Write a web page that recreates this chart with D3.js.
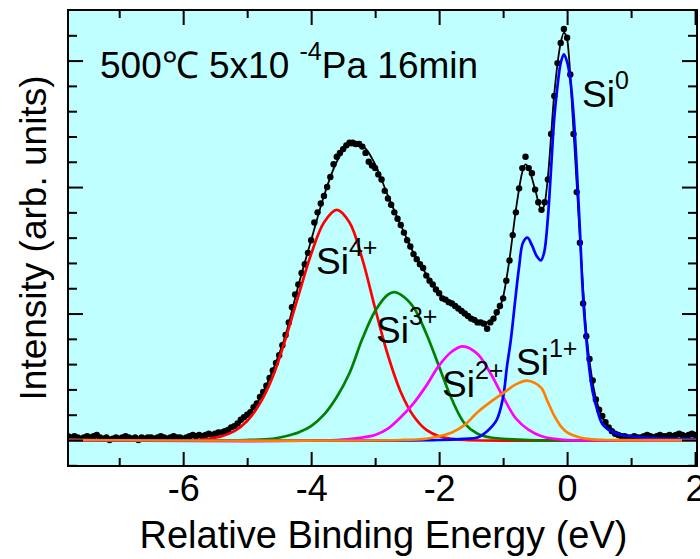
<!DOCTYPE html>
<html>
<head>
<meta charset="utf-8">
<script src="https://cdn.jsdelivr.net/npm/d3@7"></script>
<style>
  html, body { margin: 0; padding: 0; background: #fff; }
  svg { display: block; font-family: "Liberation Sans", Arial, sans-serif; }
</style>
</head>
<body>
<svg id="chart" width="700" height="559"></svg>
<script>
// measured spectrum: first energy and step of the scan (eV), then intensity per point
const scanStart = -7.8;
const scanStep = 0.05;
const measured = [
  0.03, 0.02, 0.03, 0.02, 0.01, 0.02, 0.03, 0.02, 0.03, 0.04,
  0.02, 0.01, 0.02, 0.00, 0.01, 0.02, 0.01, 0.02, 0.03, 0.02,
  0.01, 0.02, 0.00, 0.02, 0.01, 0.02, 0.02, 0.01, 0.02, 0.03,
  0.02, 0.01, 0.02, 0.03, 0.02, 0.02, 0.01, 0.02, 0.03, 0.04,
  0.03, 0.04, 0.03, 0.04, 0.05, 0.04, 0.05, 0.06, 0.06, 0.07,
  0.08, 0.10, 0.11, 0.13, 0.16, 0.18, 0.20, 0.22, 0.26, 0.29,
  0.34, 0.38, 0.43, 0.49, 0.55, 0.61, 0.67, 0.75, 0.83, 0.93,
  1.05, 1.15, 1.23, 1.32, 1.39, 1.48, 1.58, 1.72, 1.80, 1.87,
  1.93, 2.00, 2.08, 2.18, 2.24, 2.27, 2.30, 2.33, 2.35, 2.35,
  2.34, 2.34, 2.32, 2.27, 2.20, 2.17, 2.15, 2.10, 2.06, 1.97,
  1.91, 1.86, 1.80, 1.75, 1.70, 1.64, 1.58, 1.53, 1.47, 1.43,
  1.39, 1.36, 1.30, 1.26, 1.23, 1.19, 1.16, 1.12, 1.11, 1.09,
  1.08, 1.06, 1.04, 1.02, 1.00, 0.98, 0.96, 0.95, 0.93, 0.93,
  0.92, 0.88, 0.93, 0.96, 1.01, 1.06, 1.12, 1.26, 1.42, 1.62,
  1.80, 1.99, 2.15, 2.24, 2.15, 2.11, 1.98, 1.88, 1.82, 1.88,
  2.06, 2.42, 2.72, 2.98, 3.14, 3.25, 3.18, 2.89, 2.42, 1.96,
  1.56, 1.08, 0.82, 0.64, 0.47, 0.32, 0.24, 0.19, 0.14, 0.10,
  0.07, 0.05, 0.04, 0.03,
  0.03, 0.02, 0.02, 0.03, 0.02, 0.02, 0.03, 0.04, 0.03, 0.02,
  0.03, 0.04, 0.03, 0.03, 0.04, 0.03, 0.04, 0.05, 0.04, 0.03,
  0.04, 0.05, 0.04
];

// envelope of the fit [energy, intensity]
const fitCurve = [
  [-7.8, 0.02], [-6.0, 0.02], [-5.6, 0.03], [-5.4, 0.05], [-5.2, 0.10], [-5.0, 0.19],
  [-4.8, 0.33], [-4.6, 0.55], [-4.4, 0.83], [-4.2, 1.22], [-4.0, 1.58], [-3.8, 1.93],
  [-3.6, 2.20], [-3.4, 2.33], [-3.2, 2.32], [-3.0, 2.18], [-2.8, 1.93], [-2.6, 1.70],
  [-2.4, 1.48], [-2.2, 1.31], [-2.0, 1.16], [-1.8, 1.07], [-1.6, 1.00], [-1.4, 0.94],
  [-1.3, 0.93], [-1.2, 0.93], [-1.1, 1.00], [-1.0, 1.13], [-0.9, 1.43], [-0.8, 1.82],
  [-0.7, 2.12], [-0.65, 2.18], [-0.6, 2.15], [-0.5, 1.98], [-0.4, 1.82], [-0.35, 1.87],
  [-0.3, 2.08], [-0.2, 2.74], [-0.1, 3.14], [-0.05, 3.22], [0.0, 3.17], [0.1, 2.45],
  [0.2, 1.60], [0.3, 0.85], [0.4, 0.45], [0.5, 0.24], [0.6, 0.13], [0.8, 0.05],
  [1.0, 0.03], [1.4, 0.03], [2.03, 0.03]
];

// fitted components [energy, intensity]
const si4Curve = [
  [-7.8, 0], [-5.8, 0], [-5.6, 0.01], [-5.4, 0.03], [-5.2, 0.07], [-5.0, 0.15], [-4.8, 0.29],
  [-4.6, 0.50], [-4.4, 0.80], [-4.2, 1.14], [-4.0, 1.47], [-3.8, 1.72], [-3.6, 1.82],
  [-3.4, 1.72], [-3.2, 1.43], [-3.0, 1.04], [-2.8, 0.67], [-2.6, 0.38], [-2.4, 0.19],
  [-2.2, 0.08], [-2.0, 0.03], [-1.8, 0.01], [-1.6, 0], [2.03, 0]
];
const si3Curve = [
  [-7.8, 0], [-5.0, 0], [-4.6, 0.01], [-4.4, 0.03], [-4.2, 0.06], [-4.0, 0.11], [-3.8, 0.20],
  [-3.6, 0.34], [-3.4, 0.53], [-3.2, 0.80], [-3.0, 1.02], [-2.8, 1.15], [-2.7, 1.17],
  [-2.6, 1.15], [-2.4, 1.05], [-2.2, 0.84], [-2.0, 0.58], [-1.8, 0.32], [-1.6, 0.13],
  [-1.4, 0.05], [-1.2, 0.02], [-1.0, 0.01], [-0.6, 0], [2.03, 0]
];
const si2Curve = [
  [-7.8, 0], [-3.6, 0], [-3.2, 0.02], [-3.0, 0.04], [-2.8, 0.09], [-2.6, 0.18], [-2.4, 0.29],
  [-2.2, 0.43], [-2.0, 0.59], [-1.8, 0.70], [-1.63, 0.74], [-1.4, 0.68], [-1.2, 0.53],
  [-1.0, 0.34], [-0.8, 0.17], [-0.6, 0.08], [-0.4, 0.03], [-0.2, 0.01], [0.0, 0], [2.03, 0]
];
const si0Curve = [
  [-7.8, 0], [-2.0, 0], [-1.6, 0.01], [-1.4, 0.02], [-1.25, 0.07], [-1.1, 0.16], [-1.0, 0.34],
  [-0.94, 0.58], [-0.88, 0.79], [-0.81, 1.11], [-0.75, 1.37], [-0.69, 1.56], [-0.62, 1.60],
  [-0.55, 1.54], [-0.47, 1.45], [-0.41, 1.42], [-0.36, 1.48], [-0.3, 1.76], [-0.25, 2.15],
  [-0.2, 2.55], [-0.15, 2.80], [-0.1, 2.98], [-0.05, 3.05], [0.0, 2.99], [0.05, 2.85],
  [0.1, 2.58], [0.15, 2.16], [0.2, 1.66], [0.25, 1.13], [0.3, 0.80], [0.35, 0.55],
  [0.4, 0.38], [0.47, 0.24], [0.56, 0.12], [0.78, 0.05], [1.2, 0.02], [2.03, 0.01]
];
const si1Curve = [
  [-7.8, 0], [-2.6, 0], [-2.2, 0.01], [-2.0, 0.03], [-1.8, 0.06], [-1.6, 0.12], [-1.4, 0.22],
  [-1.2, 0.30], [-1.0, 0.37], [-0.8, 0.44], [-0.63, 0.47], [-0.5, 0.45], [-0.4, 0.41],
  [-0.3, 0.30], [-0.2, 0.19], [-0.1, 0.11], [0.0, 0.06], [0.2, 0.02], [0.4, 0.005],
  [0.6, 0], [2.03, 0]
];

const xMajorTicks = [-6, -4, -2, 0, 2];
const xMinorTicks = [-7, -5, -3, -1, 1];
const yMajorTicks = [0, 1, 2, 3];
const yMinorTicks = [-0.2, 0.2, 0.4, 0.6, 0.8, 1.2, 1.4, 1.6, 1.8, 2.2, 2.4, 2.6, 2.8, 3.2];

const svg = d3.select("#chart");
const plotLeft = 68, plotRight = 697, plotTop = 10, plotBottom = 466;

const x = d3.scaleLinear().domain([-7.8, 2.03]).range([plotLeft, plotRight]);
const y = d3.scaleLinear().domain([-0.2055, 3.40]).range([plotBottom, plotTop]);

// plot background
svg.append("rect")
  .attr("x", plotLeft).attr("y", plotTop)
  .attr("width", plotRight - plotLeft).attr("height", plotBottom - plotTop)
  .attr("fill", "#bfffff");

svg.append("clipPath").attr("id", "clip")
  .append("rect").attr("x", plotLeft).attr("y", plotTop)
  .attr("width", plotRight - plotLeft).attr("height", plotBottom - plotTop);
const inner = svg.append("g").attr("clip-path", "url(#clip)");

// data dots
const points = measured.map((v, i) => [scanStart + i * scanStep, v]);
inner.selectAll("circle.pt")
  .data(points)
  .join("circle")
  .attr("class", "pt")
  .attr("cx", d => x(d[0]))
  .attr("cy", d => y(d[1]))
  .attr("r", 3.2)
  .attr("fill", "#000");

const fitLine = d3.line()
  .x(d => x(d[0]))
  .y(d => y(d[1]))
  .curve(d3.curveMonotoneX);
const compLine = d3.line()
  .x(d => x(d[0]))
  .y(d => y(d[1]))
  .curve(d3.curveCatmullRom.alpha(0.5));

inner.append("path").datum(fitCurve)
  .attr("d", fitLine).attr("fill", "none")
  .attr("stroke", "#000").attr("stroke-width", 1.8);

const components = [
  { data: si4Curve, color: "#ff0000" },
  { data: si3Curve, color: "#008000" },
  { data: si2Curve, color: "#ff00ff" },
  { data: si0Curve, color: "#0000ff" },
  { data: si1Curve, color: "#ff8000" }
];
components.forEach(c => {
  inner.append("path").datum(c.data)
    .attr("d", compLine).attr("fill", "none")
    .attr("stroke", c.color).attr("stroke-width", 2.7);
});

// axes with inward ticks
const fmt = d => String(d).replace("\u2212", "-");
const axisStyle = g => {
  g.select(".domain").remove();
  g.selectAll(".tick line").attr("stroke", "#000").attr("stroke-width", 2);
};

svg.append("g").attr("transform", `translate(0,${plotBottom})`)
  .call(d3.axisBottom(x).tickValues(xMajorTicks).tickSize(-14).tickPadding(9).tickFormat(fmt))
  .call(axisStyle)
  .call(g => g.selectAll("text").attr("font-size", 36).attr("fill", "#000")
    .attr("font-family", "'Liberation Sans', Arial, sans-serif"));
svg.append("g").attr("transform", `translate(0,${plotBottom})`)
  .call(d3.axisBottom(x).tickValues(xMinorTicks).tickSize(-8).tickFormat(""))
  .call(axisStyle);
svg.append("g").attr("transform", `translate(0,${plotTop})`)
  .call(d3.axisTop(x).tickValues(xMajorTicks).tickSize(-15).tickFormat(""))
  .call(axisStyle);
svg.append("g").attr("transform", `translate(0,${plotTop})`)
  .call(d3.axisTop(x).tickValues(xMinorTicks).tickSize(-8).tickFormat(""))
  .call(axisStyle);

svg.append("g").attr("transform", `translate(${plotLeft},0)`)
  .call(d3.axisLeft(y).tickValues(yMajorTicks).tickSize(-15).tickFormat(""))
  .call(axisStyle);
svg.append("g").attr("transform", `translate(${plotLeft},0)`)
  .call(d3.axisLeft(y).tickValues(yMinorTicks).tickSize(-9).tickFormat(""))
  .call(axisStyle);
svg.append("g").attr("transform", `translate(${plotRight},0)`)
  .call(d3.axisRight(y).tickValues(yMajorTicks).tickSize(-15).tickFormat(""))
  .call(axisStyle);
svg.append("g").attr("transform", `translate(${plotRight},0)`)
  .call(d3.axisRight(y).tickValues(yMinorTicks).tickSize(-9).tickFormat(""))
  .call(axisStyle);

// frame
svg.append("rect")
  .attr("x", plotLeft).attr("y", plotTop)
  .attr("width", plotRight - plotLeft).attr("height", plotBottom - plotTop)
  .attr("fill", "none").attr("stroke", "#000").attr("stroke-width", 2);

// axis titles
svg.append("text")
  .attr("x", (plotLeft + plotRight) / 2 + 1).attr("y", 548)
  .attr("text-anchor", "middle").attr("font-size", 38)
  .text("Relative Binding Energy (eV)");
svg.append("text")
  .attr("transform", `translate(46,${(plotTop + plotBottom) / 2}) rotate(-90)`)
  .attr("text-anchor", "middle").attr("font-size", 37)
  .text("Intensity (arb. units)");

// condition annotation
const note = svg.append("text").attr("x", 100).attr("y", 78).attr("font-size", 37);
note.append("tspan").text("500\u2103 5x10 ");
note.append("tspan").attr("font-size", 25).attr("dy", -18).text("-4");
note.append("tspan").attr("dy", 18).text("Pa 16min");

// component labels
const peakLabels = [
  { name: "Si", sup: "0", px: 582, py: 107 },
  { name: "Si", sup: "4+", px: 316, py: 274 },
  { name: "Si", sup: "3+", px: 376, py: 343 },
  { name: "Si", sup: "2+", px: 442, py: 397 },
  { name: "Si", sup: "1+", px: 516, py: 375 }
];
peakLabels.forEach(l => {
  const t = svg.append("text").attr("x", l.px).attr("y", l.py).attr("font-size", 37);
  t.append("tspan").text(l.name);
  t.append("tspan").attr("font-size", 25).attr("dy", -18).text(l.sup);
});
</script>
</body>
</html>
